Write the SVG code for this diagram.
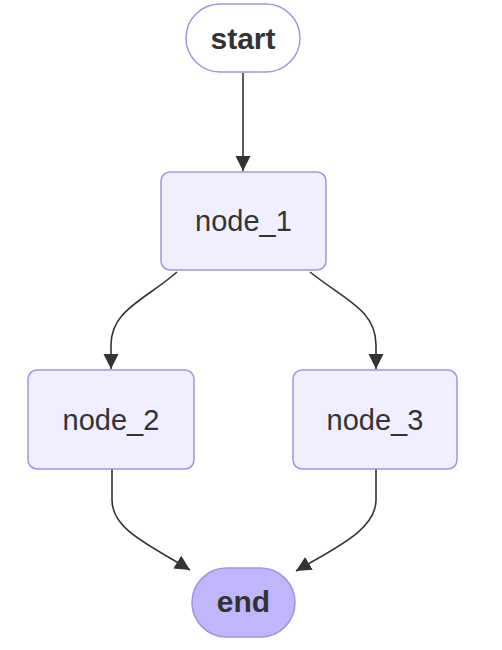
<svg xmlns="http://www.w3.org/2000/svg" width="502" height="650" viewBox="0 0 502 650">
<style>
.node rect{fill:#f0eeff;stroke:#a293e0;stroke-width:1.5}
.term rect{stroke:#a293e0;stroke-width:1.5}
.lbl{font-family:"Liberation Sans",Arial,sans-serif;font-size:29px;fill:#333;text-anchor:middle}
.bold{font-weight:bold;font-size:30px}
.edge{fill:none;stroke:#333;stroke-width:1.6}
</style>
<defs>
<marker id="arr" viewBox="0 0 10 10" refX="10" refY="5" markerWidth="15" markerHeight="16" markerUnits="userSpaceOnUse" orient="auto">
<path d="M0,0 L10,5 L0,10 z" fill="#333"/>
</marker>
</defs>
<rect width="502" height="650" fill="#ffffff"/>
<g id="edges">
<path class="edge" d="M243,73 L243,171" marker-end="url(#arr)"/>
<path class="edge" d="M177,272 C145,300 111,310 111,345 L111,369" marker-end="url(#arr)"/>
<path class="edge" d="M310,272 C345,300 376,310 376,345 L376,369" marker-end="url(#arr)"/>
<path class="edge" d="M112,469 L112,500 C112,530 150,545 190,570" marker-end="url(#arr)"/>
<path class="edge" d="M376,469 L376,500 C376,530 335,548 296,571" marker-end="url(#arr)"/>
</g>
<g id="start" class="term">
<rect x="186" y="4" width="114" height="68" rx="34" ry="34" fill="#ffffff"/>
<text class="lbl bold" x="243" y="49">start</text>
</g>
<g id="node_1" class="node">
<rect x="161" y="172" width="165" height="98" rx="9" ry="9"/>
<text class="lbl" x="243.5" y="231">node_1</text>
</g>
<g id="node_2" class="node">
<rect x="28" y="370" width="166" height="99" rx="9" ry="9"/>
<text class="lbl" x="111" y="430">node_2</text>
</g>
<g id="node_3" class="node">
<rect x="293" y="370" width="164" height="99" rx="9" ry="9"/>
<text class="lbl" x="375" y="430">node_3</text>
</g>
<g id="end" class="term">
<rect x="192" y="568" width="103" height="69" rx="34.5" ry="34.5" fill="#bfb6fc"/>
<text class="lbl bold" x="243.5" y="612">end</text>
</g>
</svg>
